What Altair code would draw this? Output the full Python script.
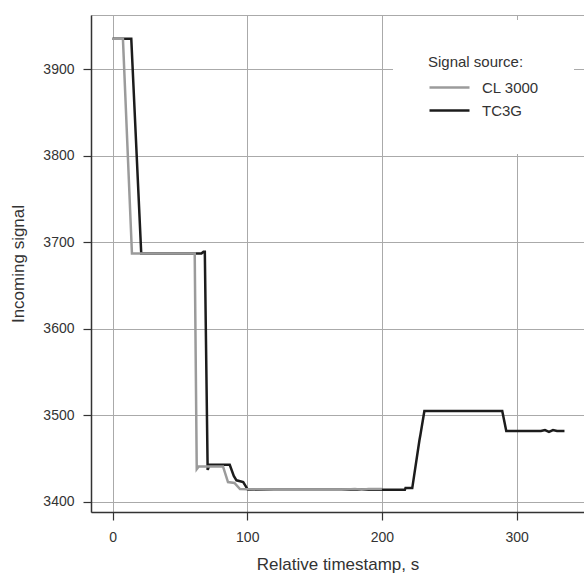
import altair as alt
import pandas as pd

SOURCES = ["CL 3000", "TC3G"]
COLORS = ["#9b9b9b", "#1c1c1c"]

# CL 3000 (grey)
cl_t = [0, 7.7, 14.4, 61, 62.5, 64, 82, 85.7, 90.5, 94.6, 120, 150, 170, 180, 185, 190, 195, 200]
cl_v = [3935, 3935, 3687, 3687, 3438, 3441, 3441, 3423, 3422, 3415, 3414, 3414, 3414, 3415, 3414, 3415, 3415, 3415]

# TC3G (black)
tc_t = [0, 13.9, 21.3, 66, 67.5, 68.5, 70.6, 72, 87, 90, 92, 97, 100.5, 150, 200, 217, 217.5,
        222.5, 227.8, 228.6, 231.5, 289.3, 292.3, 310, 318, 321, 324, 327, 330, 335.5]
tc_v = [3935, 3935, 3687, 3687, 3689, 3689, 3437, 3443, 3443, 3430, 3425, 3423, 3414, 3414, 3414, 3414, 3416,
        3416, 3471, 3478, 3505, 3505, 3482, 3482, 3482, 3483, 3481, 3483, 3482, 3482]

X_TICKS = [0, 100, 200, 300]
Y_TICKS = [3400, 3500, 3600, 3700, 3800, 3900]

df_cl = pd.DataFrame({"t": cl_t, "signal": cl_v, "source": SOURCES[0], "i": range(len(cl_t))})
df_tc = pd.DataFrame({"t": tc_t, "signal": tc_v, "source": SOURCES[1], "i": range(len(tc_t))})

FONT = "Liberation Sans"
TXT = "#333333"

x = alt.X("t:Q",
          scale=alt.Scale(domain=[-16, 350], nice=False, zero=False),
          axis=alt.Axis(values=X_TICKS, title="Relative timestamp, s", format="d"))
y = alt.Y("signal:Q",
          scale=alt.Scale(domain=[3388.4, 3962.5], nice=False, zero=False),
          axis=alt.Axis(values=Y_TICKS, title="Incoming signal", format="d"))
color = alt.Color("source:N",
                  scale=alt.Scale(domain=SOURCES, range=COLORS),
                  legend=alt.Legend(title="Signal source:", orient="none",
                                    legendX=302, legendY=5, padding=35,
                                    fillColor="white",
                                    symbolType="M-1,0H3", symbolSize=400,
                                    symbolStrokeWidth=2.5, labelOffset=31,
                                    titleFontSize=15, labelFontSize=15,
                                    titleFontWeight="normal", titleColor=TXT,
                                    labelColor=TXT, titleFont=FONT, labelFont=FONT,
                                    titlePadding=6, rowPadding=3))

black = alt.Chart(df_tc).mark_line(strokeWidth=2.5, clip=True).encode(x=x, y=y, color=color, order="i:Q")
grey = alt.Chart(df_cl).mark_line(strokeWidth=2.5, clip=True).encode(x=x, y=y, color=color, order="i:Q")

chart = (
    alt.layer(black, grey)
    .properties(width=493, height=497,
                autosize=alt.AutoSizeParams(type="none"),
                padding={"left": 91, "top": 15, "right": 0, "bottom": 66})
    .configure_view(stroke="#aaaaaa", strokeWidth=1)
    .configure_axis(
        grid=True, gridColor="#aaaaaa", gridWidth=1,
        domainColor="#333333", domainWidth=1.5,
        tickColor="#333333", tickSize=8, tickWidth=1.2,
        labelFont=FONT, labelFontSize=14, labelColor=TXT,
        titleFont=FONT, titleFontSize=17, titleColor=TXT, titleFontWeight="normal",
    )
    .configure_axisX(labelPadding=10, titlePadding=12)
    .configure_axisY(labelPadding=9, titlePadding=15)
)

chart.save("out.html", embed_options={"renderer": "svg", "actions": False})
